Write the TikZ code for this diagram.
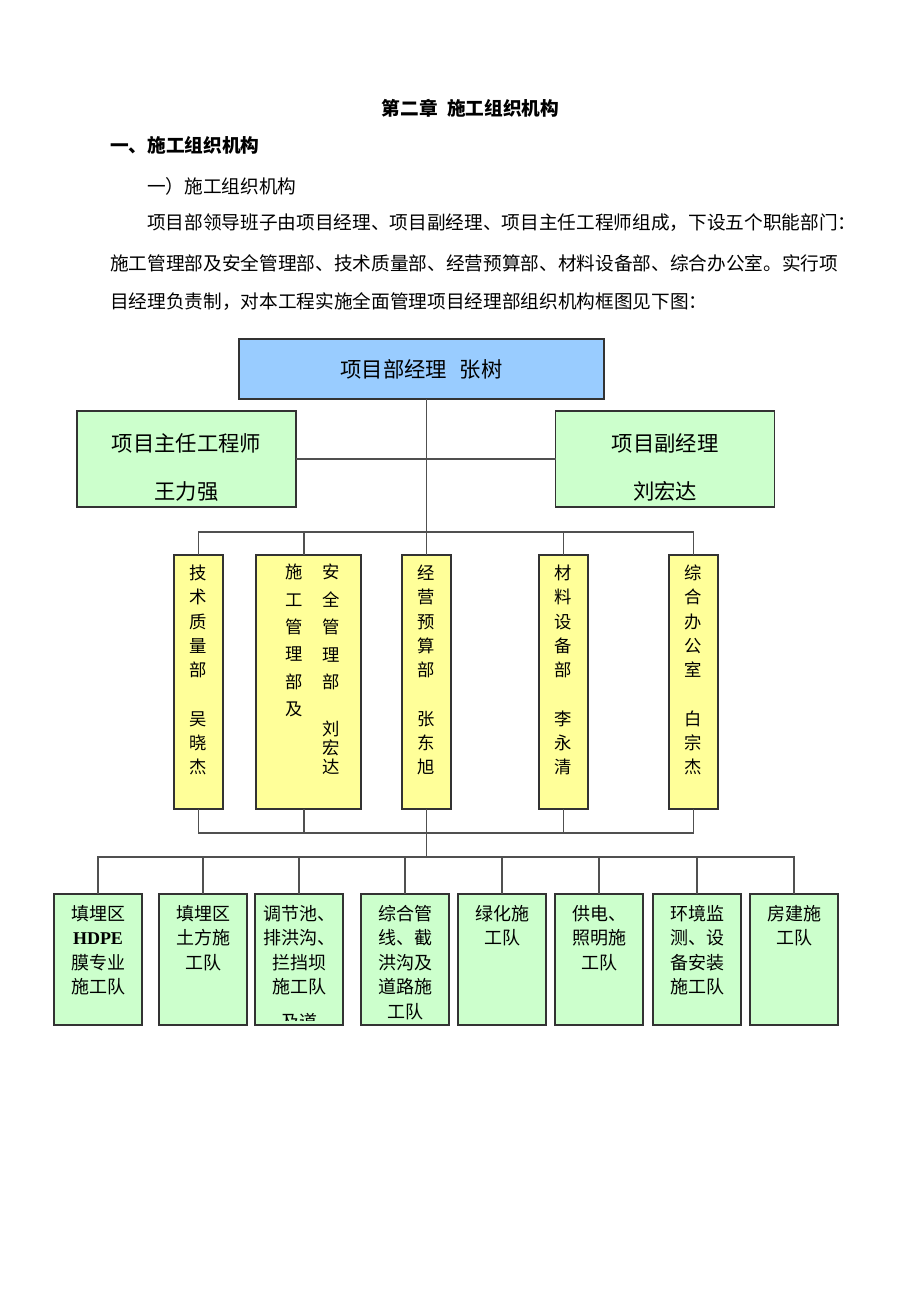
\documentclass[tikz,border=0pt]{standalone}
\usepackage{fontspec}
\setmainfont{Noto Sans CJK SC}
\newfontfamily\timesfont{Liberation Serif}
\usepackage{tikz}
\usetikzlibrary{positioning}
\usepackage{xcolor}
\definecolor{mgrblue}{HTML}{99CCFF}
\definecolor{leadgreen}{HTML}{CCFFCC}
\definecolor{deptyellow}{HTML}{FFFF99}
\definecolor{linegray}{HTML}{505050}

\begin{document}
\begin{tikzpicture}[x=0.75pt,y=-0.75pt,
    every node/.style={inner sep=0pt,outer sep=0pt},
    box/.style={draw=black!80,line width=0.8pt},
    mgr/.style={box,fill=mgrblue,minimum width=273.75pt,minimum height=45pt,font=\fontsize{16}{19}\selectfont},
    lead/.style={box,fill=leadgreen,minimum width=164.25pt,minimum height=72pt},
    dept/.style={box,fill=deptyellow,minimum width=36.75pt,minimum height=190.5pt},
    team/.style={box,fill=leadgreen,minimum width=66pt,minimum height=98.25pt},
    conn/.style={linegray,line width=1.1pt},
    leadtxt/.style={align=center,font=\fontsize{16}{36}\selectfont},
    depttxt/.style={align=center,anchor=north,font=\fontsize{13}{18.2}\selectfont},
    teamtxt/.style={align=center,anchor=north,font=\fontsize{13.5}{18.4}\selectfont},
    bodytxt/.style={anchor=west,font=\fontsize{14}{16}\selectfont}]
        \fill[white] (0,0) rectangle (920,1302);

        % heading and paragraph
        \node[font=\fontsize{14}{16}\selectfont\bfseries] (title) at (470.5,108) {第二章\hspace{0.5em}施工组织机构};
        \node[bodytxt,font=\fontsize{14}{16}\selectfont\bfseries] (sec) at (110,145) {一、施工组织机构};
        \node[bodytxt] (subsec) at (147,186) {一）施工组织机构};
        \node[bodytxt] (para1) at (147,223) {项目部领导班子由项目经理、项目副经理、项目主任工程师组成，下设五个职能部门：};
        \node[bodytxt] (para2) at (110,263) {施工管理部及安全管理部、技术质量部、经营预算部、材料设备部、综合办公室。实行项};
        \node[bodytxt] (para3) at (110,302) {目经理负责制，对本工程实施全面管理项目经理部组织机构框图见下图：};

        % leaders
        \node[mgr] (manager) at (421.5,369) {项目部经理\hspace{0.6em}张树};
        \node[lead] (chief) at (186.5,459) {};
        \node[lead] (deputy) at (665,459) {};
        \node[leadtxt] (chieftxt) at (186.5,467) {项目主任工程师\\王力强};
        \node[leadtxt] (deputytxt) at (665,467) {项目副经理\\刘宏达};

        % departments
        \node[dept] (dept1) at (198.5,682) {};
        \node[dept,minimum width=78.75pt] (dept2) at (308.5,682) {};
        \node[dept] (dept3) at (426.5,682) {};
        \node[dept] (dept4) at (563.5,682) {};
        \node[dept] (dept5) at (693.5,682) {};

        \node[depttxt] (dept1txt) at (198.5,565) {技\\术\\质\\量\\部\\[18.2pt]吴\\晓\\杰};
        \node[depttxt,font=\fontsize{13}{20.6}\selectfont] (dept2txta) at (294,564) {施\\工\\管\\理\\部\\及};
        \node[depttxt,font=\fontsize{13}{20.6}\selectfont] (dept2txtb) at (331,564) {安\\全\\管\\理\\部\\[14.6pt]刘\\[-6.4pt]宏\\[-6.4pt]达};
        \node[depttxt] (dept3txt) at (426.5,565) {经\\营\\预\\算\\部\\[18.2pt]张\\东\\旭};
        \node[depttxt] (dept4txt) at (563.5,565) {材\\料\\设\\备\\部\\[18.2pt]李\\永\\清};
        \node[depttxt] (dept5txt) at (693.5,565) {综\\合\\办\\公\\室\\[18.2pt]白\\宗\\杰};

        % teams
        \node[team] (team1) at (98,959.5) {};
        \node[team] (team2) at (203,959.5) {};
        \node[team] (team3) at (299,959.5) {};
        \node[team] (team4) at (405,959.5) {};
        \node[team] (team5) at (502,959.5) {};
        \node[team] (team6) at (599,959.5) {};
        \node[team] (team7) at (697,959.5) {};
        \node[team] (team8) at (794,959.5) {};

        \node[teamtxt] (team1txt) at (98,905) {填埋区\\{\timesfont\bfseries HDPE}\\膜专业\\施工队};
        \node[teamtxt] (team2txt) at (203,905) {填埋区\\土方施\\工队};
        \begin{scope}
            \clip (team3.north west) rectangle ([yshift=3.75pt]team3.south east);
            \node[teamtxt] (team3txt) at (299,905) {调节池、\\排洪沟、\\拦挡坝\\施工队\\[7.5pt]及道};
        \end{scope}
        \node[teamtxt] (team4txt) at (405,905) {综合管\\线、截\\洪沟及\\道路施\\工队};
        \node[teamtxt] (team5txt) at (502,905) {绿化施\\工队};
        \node[teamtxt] (team6txt) at (599,905) {供电、\\照明施\\工队};
        \node[teamtxt] (team7txt) at (697,905) {环境监\\测、设\\备安装\\施工队};
        \node[teamtxt] (team8txt) at (794,905) {房建施\\工队};

        % connectors
        \coordinate (upbus) at (426.5,532);
        \coordinate (lowbus) at (426.5,833);
        \coordinate (teambus) at (426.5,857);

        \draw[conn] (manager.south -| dept3.north) -- (dept3.north);
        \draw[conn] (chief.east) -- (deputy.west);
        \draw[conn] (dept1.north) |- (upbus) -| (dept5.north);
        \draw[conn] ([xshift=-3.4pt]dept2.north) -- ([xshift=-3.4pt]dept2.north |- upbus);
        \draw[conn] (dept4.north) -- (dept4.north |- upbus);
        \draw[conn] (dept1.south) |- (lowbus) -| (dept5.south);
        \draw[conn] ([xshift=-3.4pt]dept2.south) -- ([xshift=-3.4pt]dept2.south |- lowbus);
        \draw[conn] (dept4.south) -- (dept4.south |- lowbus);
        \draw[conn] (dept3.south) -- (teambus);
        \draw[conn] (team1.north) |- (teambus) -| (team8.north);
        \foreach \i in {2,...,7}
            \draw[conn] (team\i.north) -- (team\i.north |- teambus);
    \end{tikzpicture}
\end{document}
